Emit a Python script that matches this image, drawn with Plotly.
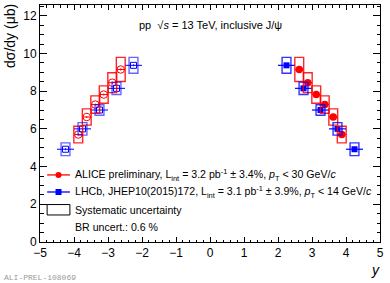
import plotly.graph_objects as go

# ---- data ----
alice_y = [2.625, 2.875, 3.125, 3.375, 3.625, 3.875]
alice_val = [9.15, 8.45, 7.82, 7.29, 6.63, 5.70]
alice_stat = [0.06, 0.05, 0.05, 0.05, 0.05, 0.05]
alice_syst = [0.64, 0.53, 0.46, 0.46, 0.43, 0.44]
alice_hw = [0.125] * 6

lhcb_y = [2.25, 2.75, 3.25, 3.75, 4.25]
lhcb_val = [9.37, 8.15, 7.00, 6.00, 4.92]
lhcb_stat = [0.05, 0.04, 0.04, 0.04, 0.05]
lhcb_syst = [0.42, 0.33, 0.28, 0.33, 0.34]
lhcb_hw = [0.25] * 5

xticks = [-5, -4, -3, -2, -1, 0, 1, 2, 3, 4, 5]
yticks = [0, 2, 4, 6, 8, 10, 12]

RED = "#ff0000"
BLUE = "#0000ff"
FONT = "Liberation Sans, Arial, Helvetica, sans-serif"
BOX_HW = 0.13

fig = go.Figure()

def add_boxes(xs, vals, systs, color, opacity, sign):
    for x, v, s in zip(xs, vals, systs):
        xc = sign * x
        fig.add_shape(type="rect", xref="x", yref="y",
                      x0=xc - BOX_HW, x1=xc + BOX_HW, y0=v - s, y1=v + s,
                      line=dict(color=color, width=1.4), opacity=opacity,
                      fillcolor="rgba(0,0,0,0)", layer="above")

add_boxes(alice_y, alice_val, alice_syst, RED, 0.85, 1)
add_boxes(alice_y, alice_val, alice_syst, RED, 0.85, -1)
add_boxes(lhcb_y, lhcb_val, lhcb_syst, BLUE, 0.8, 1)
add_boxes(lhcb_y, lhcb_val, lhcb_syst, BLUE, 0.6, -1)

fig.add_trace(go.Scatter(
    x=alice_y, y=alice_val, mode="markers",
    marker=dict(symbol="circle", size=7.5, color=RED),
    error_x=dict(type="data", array=alice_hw, color=RED, thickness=1.2, width=0),
    error_y=dict(type="data", array=alice_stat, color=RED, thickness=1.2, width=0),
    showlegend=False))
fig.add_trace(go.Scatter(
    x=[-v for v in alice_y], y=alice_val, mode="markers",
    marker=dict(symbol="circle-open", size=7.5, color=RED, line=dict(width=1)),
    error_x=dict(type="data", array=alice_hw, color=RED, thickness=1, width=0),
    error_y=dict(type="data", array=alice_stat, color=RED, thickness=1, width=0),
    showlegend=False))

fig.add_trace(go.Scatter(
    x=lhcb_y, y=lhcb_val, mode="markers",
    marker=dict(symbol="square", size=6, color=BLUE),
    error_x=dict(type="data", array=lhcb_hw, color=BLUE, thickness=1.2, width=0),
    error_y=dict(type="data", array=lhcb_stat, color=BLUE, thickness=1.2, width=0),
    showlegend=False))
fig.add_trace(go.Scatter(
    x=[-v for v in lhcb_y], y=lhcb_val, mode="markers",
    marker=dict(symbol="square-open", size=6, color=BLUE, line=dict(width=1)),
    error_x=dict(type="data", array=lhcb_hw, color=BLUE, thickness=1, width=0),
    error_y=dict(type="data", array=lhcb_stat, color=BLUE, thickness=1, width=0),
    showlegend=False))

# ---- manual legend (paper coordinates) ----
L0, L1 = 0.021, 0.088
LM = (L0 + L1) / 2
TX = 0.097
rows = [0.283, 0.211]
for yy, col, sym in [(rows[0], RED, "circle"), (rows[1], BLUE, "rect")]:
    fig.add_shape(type="line", xref="paper", yref="paper", x0=L0, x1=L1, y0=yy, y1=yy,
                  line=dict(color=col, width=1.3))
    fig.add_shape(type=sym, xref="paper", yref="paper",
                  xsizemode="pixel", ysizemode="pixel", xanchor=LM, yanchor=yy,
                  x0=-3, x1=3, y0=-3, y1=3, fillcolor=col, line=dict(color=col, width=0))
fig.add_shape(type="rect", xref="paper", yref="paper", x0=L0, x1=L1, y0=0.114, y1=0.158,
              line=dict(color="black", width=1))

leg_texts = [
    (0.283, "ALICE preliminary, L<sub>int</sub> = 3.2 pb<sup>-1</sup> ± 3.4%, <i>p</i><sub>T</sub> &lt; 30 GeV/<i>c</i>"),
    (0.211, "LHCb, JHEP10(2015)172, L<sub>int</sub> = 3.1 pb<sup>-1</sup> ± 3.9%, <i>p</i><sub>T</sub> &lt; 14 GeV/<i>c</i>"),
    (0.136, "Systematic uncertainty"),
    (0.063, "BR uncert.: 0.6 %"),
]
for yy, t in leg_texts:
    fig.add_annotation(xref="paper", yref="paper", x=TX, y=yy, text=t, showarrow=False,
                       xanchor="left", yanchor="middle", font=dict(size=10.6, color="black", family=FONT))

fig.add_annotation(xref="paper", yref="paper", x=0.285, y=0.916,
                   text="pp  √<i>s</i> = 13 TeV, inclusive J/ψ", showarrow=False,
                   xanchor="left", yanchor="middle", font=dict(size=11, color="black", family=FONT))

fig.add_annotation(xref="paper", yref="paper", x=0.988, y=-0.118, text="<i>y</i>", showarrow=False,
                   xanchor="center", yanchor="middle", font=dict(size=14, color="black", family=FONT))
fig.add_annotation(xref="paper", yref="paper", x=-0.088, y=1.013, text="dσ/dy (μb)", showarrow=False,
                   textangle=-90, xanchor="center", yanchor="top",
                   font=dict(size=14, color="black", family=FONT))
fig.add_annotation(xref="paper", yref="paper", x=-0.112, y=-0.148, text="ALI-PREL-108069", showarrow=False,
                   xanchor="left", yanchor="middle",
                   font=dict(size=8, color="#999999", family="Liberation Mono, Courier New, monospace"))

axis_common = dict(showgrid=False, zeroline=False, showline=True, linecolor="black", linewidth=1,
                   mirror="allticks", ticks="inside", tickcolor="black", tickwidth=1, automargin=False,
                   tickfont=dict(size=12, color="black", family=FONT))

fig.update_xaxes(range=[-5, 5], tickvals=xticks, ticklen=5,
                 ticktext=[str(v).replace("-", "\u2212") for v in xticks],
                 minor=dict(dtick=0.2, ticks="inside", ticklen=2.5, tickcolor="black", showgrid=False),
                 **axis_common)
fig.update_yaxes(range=[0, 12.57], tickvals=yticks, ticklen=7,
                 minor=dict(dtick=0.5, ticks="inside", ticklen=3.5, tickcolor="black", showgrid=False),
                 **axis_common)

fig.update_layout(width=390, height=283, margin=dict(l=40, r=10, t=5, b=41),
                  paper_bgcolor="white", plot_bgcolor="white", showlegend=False,
                  font=dict(family=FONT, color="black"))

fig.write_html("out.html", config={"displayModeBar": False},
               post_script="document.body.style.margin='0';")
